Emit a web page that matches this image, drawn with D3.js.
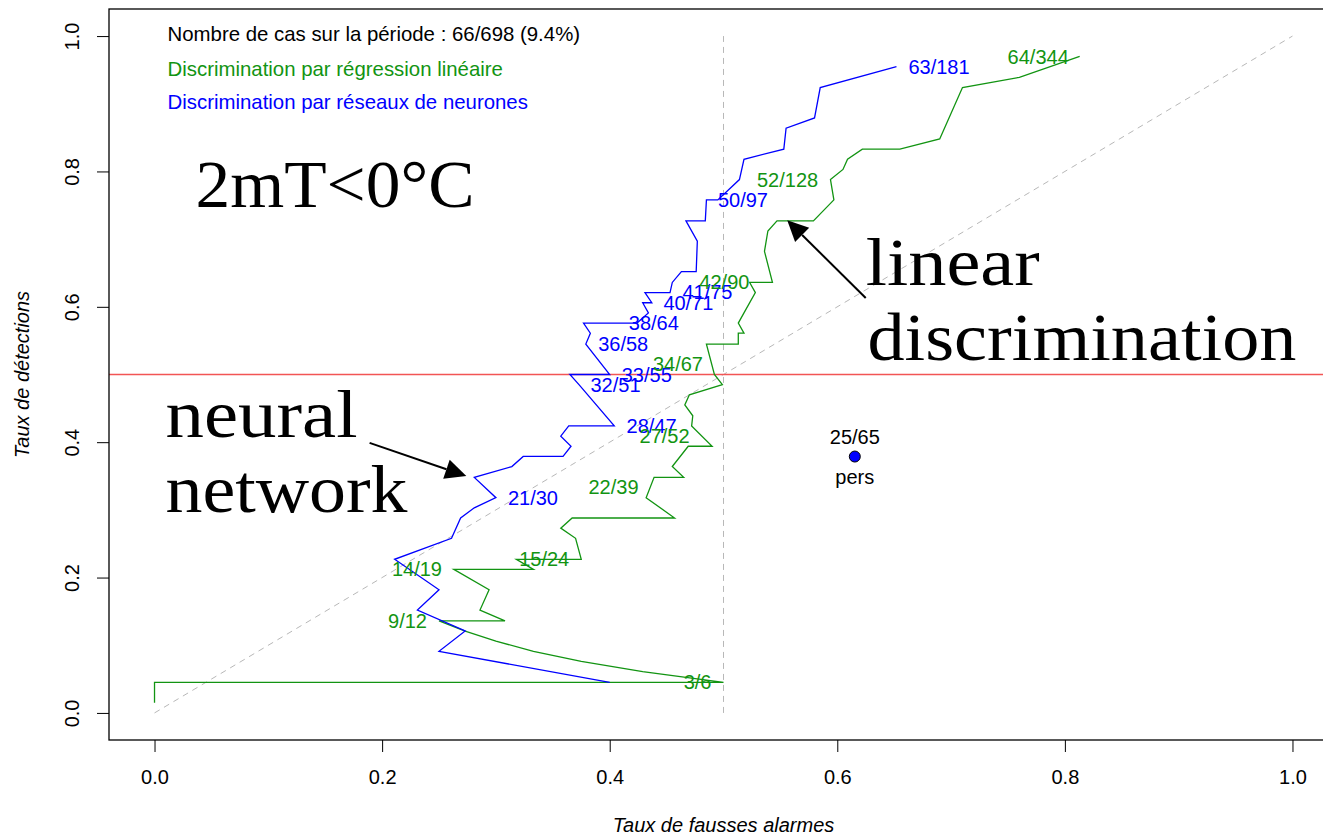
<!DOCTYPE html>
<html><head><meta charset="utf-8">
<script src="https://cdn.jsdelivr.net/npm/d3@7"></script>
<style>body{margin:0;background:#fff}svg{display:block;font-family:"Liberation Sans",Arial,sans-serif}</style>
</head><body><svg id="c" width="1323" height="837"></svg>
<script>
// ---- data ----
const totalCases = 66, totalDays = 698;
const nnFar = [0.400,0.250,0.273,0.231,0.250,0.211,0.261,0.269,0.281,0.300,0.281,0.314,0.324,0.359,0.366,0.357,0.364,0.404,0.373,0.365,0.400,0.379,0.383,0.377,0.424,0.434,0.429,0.437,0.431,0.453,0.455,0.463,0.476,0.477,0.467,0.484,0.485,0.495,0.514,0.518,0.553,0.555,0.580,0.585,0.652];
const nnPod = [0.045,0.091,0.121,0.152,0.182,0.227,0.258,0.288,0.303,0.318,0.348,0.364,0.379,0.379,0.394,0.409,0.424,0.424,0.485,0.500,0.500,0.545,0.561,0.576,0.576,0.591,0.606,0.606,0.621,0.621,0.636,0.652,0.652,0.697,0.727,0.727,0.758,0.758,0.788,0.818,0.833,0.864,0.879,0.924,0.955];
const lrFar = [0,0,0.500,0.429,0.375,0.333,0.300,0.273,0.250,0.308,0.286,0.294,0.263,0.333,0.318,0.375,0.370,0.357,0.367,0.457,0.432,0.439,0.465,0.455,0.469,0.490,0.472,0.473,0.466,0.470,0.499,0.492,0.485,0.513,0.513,0.518,0.513,0.518,0.528,0.523,0.543,0.536,0.539,0.547,0.579,0.597,0.594,0.605,0.609,0.622,0.655,0.690,0.710,0.760,0.813];
const lrPod = [0.015,0.045,0.045,0.061,0.076,0.091,0.106,0.121,0.136,0.136,0.152,0.182,0.212,0.212,0.227,0.227,0.258,0.273,0.288,0.288,0.318,0.348,0.348,0.364,0.394,0.394,0.424,0.439,0.455,0.470,0.485,0.500,0.545,0.545,0.561,0.561,0.576,0.591,0.621,0.636,0.636,0.682,0.712,0.727,0.727,0.758,0.788,0.803,0.818,0.833,0.833,0.848,0.924,0.939,0.970];
const nnLabelHits   = [21,28,32,33,36,38,40,41,50,63];
const nnLabelAlarms = [30,47,51,55,58,64,71,75,97,181];
const lrLabelHits   = [3,9,14,15,22,27,34,42,52,64];
const lrLabelAlarms = [6,12,19,24,39,52,67,90,128,344];
const persHits = 25, persAlarms = 65;
const xTicks = [0,0.2,0.4,0.6,0.8,1.0];
const yTicks = [0,0.2,0.4,0.6,0.8,1.0];
const legendLines = ["Nombre de cas sur la période : 66/698 (9.4%)","Discrimination par régression linéaire","Discrimination par réseaux de neurones"];

// ---- chart ----
const GREEN = "#129412", BLUE = "#0000ff";
const SANS = "'Liberation Sans',Arial,sans-serif";
const SERIF = "'Liberation Serif','DejaVu Serif',serif";
const svg = d3.select("#c");
const x = d3.scaleLinear().domain([-0.04,1.04]).range([109,1338]);
const y = d3.scaleLinear().domain([-0.04,1.04]).range([740,9]);

// reference lines
svg.append("line").attr("x1",x(0)).attr("y1",y(0)).attr("x2",x(1)).attr("y2",y(1))
  .attr("stroke","#b8b8b8").attr("stroke-dasharray","6,5").attr("stroke-width",1);
svg.append("line").attr("x1",x(0.5)).attr("y1",y(0)).attr("x2",x(0.5)).attr("y2",y(1))
  .attr("stroke","#b8b8b8").attr("stroke-dasharray","6,5").attr("stroke-width",1);
svg.append("line").attr("x1",x(-0.04)).attr("x2",x(1.04)).attr("y1",y(0.5)).attr("y2",y(0.5))
  .attr("stroke","#f25555").attr("stroke-width",1.3);

const line = d3.line().x(d=>x(d[0])).y(d=>y(d[1]));
svg.append("path").datum(lrFar.map((v,i)=>[v,lrPod[i]])).attr("d",line)
  .attr("fill","none").attr("stroke",GREEN).attr("stroke-width",1.3);
svg.append("path").datum(nnFar.map((v,i)=>[v,nnPod[i]])).attr("d",line)
  .attr("fill","none").attr("stroke",BLUE).attr("stroke-width",1.3);

// labels on curves
const lab = svg.append("g").style("font-size","20px");
nnLabelHits.forEach((h,i)=>{
  const a = nnLabelAlarms[i];
  lab.append("text").attr("x",x(1-h/a)+12).attr("y",y(h/totalCases)).attr("dy","0.35em")
    .attr("fill",BLUE).text(h+"/"+a);
});
lrLabelHits.forEach((h,i)=>{
  const a = lrLabelAlarms[i];
  lab.append("text").attr("x",x(1-h/a)-12).attr("y",y(h/totalCases)).attr("dy","0.35em")
    .attr("text-anchor","end").attr("fill",GREEN).text(h+"/"+a);
});

// persistence point
const px = x(1-persHits/persAlarms), py = y(persHits/totalCases);
svg.append("circle").attr("cx",px).attr("cy",py).attr("r",5.5).attr("fill",BLUE).attr("stroke","#000").attr("stroke-width",1);
svg.append("text").attr("x",px).attr("y",py-20).attr("dy","0.35em").attr("text-anchor","middle").style("font-size","20px").text(persHits+"/"+persAlarms);
svg.append("text").attr("x",px).attr("y",py+20).attr("dy","0.35em").attr("text-anchor","middle").style("font-size","20px").text("pers");

// legend
const legColors = ["#000",GREEN,BLUE];
const legY = [0.993,0.941,0.892];
legendLines.forEach((t,i)=>{
  svg.append("text").attr("x",x(0.0114)).attr("y",y(legY[i])).style("font-size","20.4px").attr("fill",legColors[i]).text(t);
});

// big annotations
const big = [
  {t:"2mT<0°C", x:0.036, y:0.747, w:279},
  {t:"neural", x:0.0097, y:0.408, w:192},
  {t:"network", x:0.0097, y:0.297, w:242},
  {t:"linear", x:0.625, y:0.632, w:174},
  {t:"discrimination", x:0.6265, y:0.521, w:429}
];
big.forEach(b=>{
  svg.append("text").attr("x",x(b.x)).attr("y",y(b.y)).style("font-family",SERIF)
    .style("font-size","68px").attr("textLength",b.w).attr("lengthAdjust","spacingAndGlyphs").attr("fill","#000").text(b.t);
});

// arrows
function arrow(x0,y0,x1,y1){
  const X0=x(x0),Y0=y(y0),X1=x(x1),Y1=y(y1);
  const dx=X1-X0, dy=Y1-Y0, L=Math.hypot(dx,dy), ux=dx/L, uy=dy/L;
  const hl=21, hw=10;
  const bx=X1-ux*hl, by=Y1-uy*hl;
  svg.append("line").attr("x1",X0).attr("y1",Y0).attr("x2",bx).attr("y2",by).attr("stroke","#000").attr("stroke-width",2);
  svg.append("path").attr("d",`M${X1},${Y1}L${bx-uy*hw},${by+ux*hw}L${bx+uy*hw},${by-ux*hw}Z`).attr("fill","#000");
}
arrow(0.189,0.399,0.274,0.350);
arrow(0.625,0.613,0.556,0.728);

// box
svg.append("rect").attr("x",109).attr("y",9).attr("width",1338-109).attr("height",740-9)
  .attr("fill","none").attr("stroke","#000").attr("stroke-width",1.3);

// axes
const gx = svg.append("g").attr("transform","translate(0,740)")
  .call(d3.axisBottom(x).tickValues(xTicks).tickFormat(d3.format(".1f")).tickSize(12).tickSizeOuter(0).tickPadding(18));
gx.select(".domain").remove();
gx.selectAll("text").style("font-size","20px").style("font-family",SANS).attr("fill","#000");
gx.selectAll("line").attr("stroke","#000");

const gy = svg.append("g").attr("transform","translate(109,0)")
  .call(d3.axisLeft(y).tickValues(yTicks).tickFormat(d3.format(".1f")).tickSize(12).tickSizeOuter(0));
gy.select(".domain").remove();
gy.selectAll("line").attr("stroke","#000");
gy.selectAll("text").style("font-size","20px").style("font-family",SANS).attr("fill","#000")
  .attr("transform","rotate(-90)").attr("x",0).attr("y",-30).attr("dy",0).attr("text-anchor","middle");

// axis titles
svg.append("text").attr("x",x(0.5)).attr("y",832).attr("text-anchor","middle").style("font-size","20px")
  .style("font-style","italic").text("Taux de fausses alarmes");
svg.append("text").attr("transform",`translate(29,${(9+740)/2}) rotate(-90)`).attr("text-anchor","middle")
  .style("font-size","20px").style("font-style","italic").text("Taux de détections");
</script></body></html>
